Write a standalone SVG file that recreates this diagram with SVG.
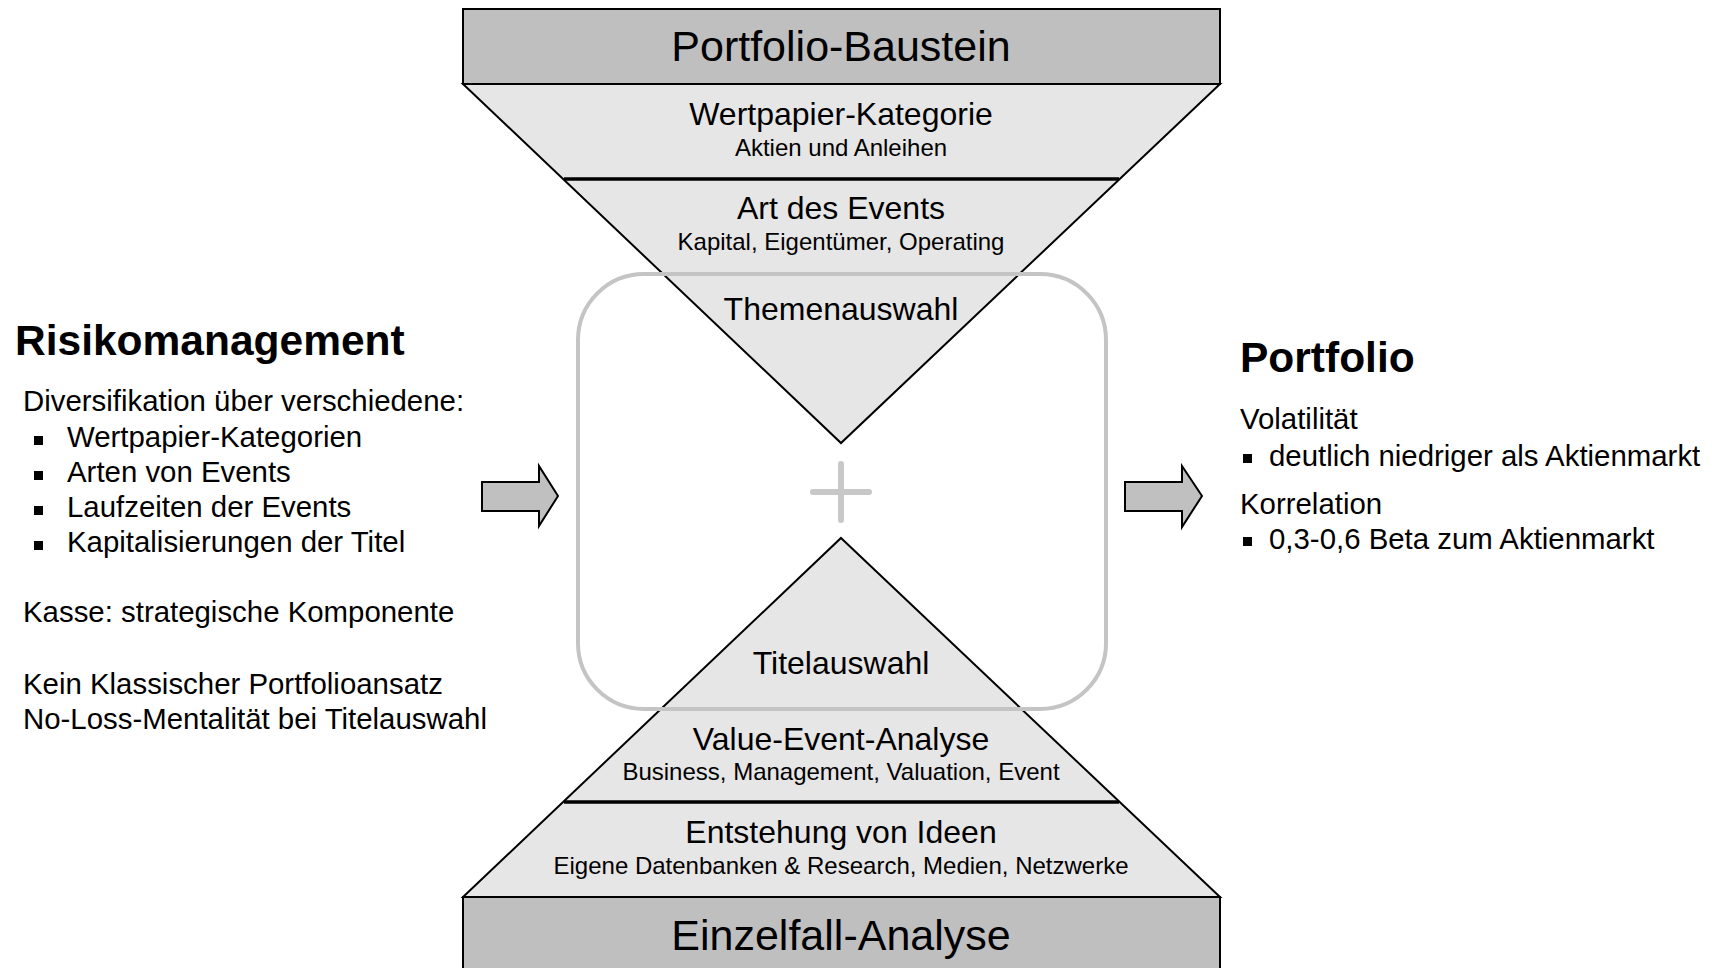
<svg xmlns="http://www.w3.org/2000/svg" width="1712" height="968" viewBox="0 0 1712 968">
<style>
text { font-family: "Liberation Sans", Arial, Helvetica, sans-serif; fill: #000; }
.c { text-anchor: middle; }
.big { font-size: 43px; }
.h { font-size: 32px; }
.s { font-size: 24px; }
.b { font-size: 42.5px; font-weight: bold; }
.t { font-size: 29.4px; }
.box { fill: #bfbfbf; stroke: #000; stroke-width: 2; }
.tri { fill: #e6e6e6; stroke: #000; stroke-width: 2; stroke-linejoin: miter; }
.div { stroke: #000; stroke-width: 3.5; }
.arrow { fill: #c0c0c0; stroke: #000; stroke-width: 2; stroke-linejoin: miter; }
.frame { fill: none; stroke: #c4c4c4; stroke-width: 4; }
.plus { stroke: #c8c8c8; stroke-width: 6; stroke-linecap: round; }
</style>
<rect width="1712" height="968" fill="#fff"/>

<g id="top-funnel">
  <polygon class="tri" points="463,84 1220,84 841,443"/>
  <line class="div" x1="564" y1="179" x2="1119" y2="179"/>
  <text class="c h" x="841" y="125">Wertpapier-Kategorie</text>
  <text class="c s" x="841" y="156">Aktien und Anleihen</text>
  <text class="c h" x="841" y="219">Art des Events</text>
  <text class="c s" x="841" y="250">Kapital, Eigentümer, Operating</text>
  <text class="c h" x="841" y="320">Themenauswahl</text>
</g>

<g id="portfolio-baustein">
  <rect class="box" x="463" y="9" width="757" height="75"/>
  <text class="c big" x="841" y="61">Portfolio-Baustein</text>
</g>

<g id="bottom-pyramid">
  <polygon class="tri" points="841,538 1220,897 463,897"/>
  <line class="div" x1="564" y1="802" x2="1119" y2="802"/>
  <text class="c h" x="841" y="674">Titelauswahl</text>
  <text class="c h" x="841" y="750">Value-Event-Analyse</text>
  <text class="c s" x="841" y="780">Business, Management, Valuation, Event</text>
  <text class="c h" x="841" y="843">Entstehung von Ideen</text>
  <text class="c s" x="841" y="874">Eigene Datenbanken &amp; Research, Medien, Netzwerke</text>
</g>

<g id="einzelfall-analyse">
  <rect class="box" x="463" y="897" width="757" height="90"/>
  <text class="c big" x="841" y="950">Einzelfall-Analyse</text>
</g>

<g id="combination">
  <rect class="frame" x="578" y="274" width="528" height="435" rx="66" ry="66"/>
  <line class="plus" x1="813" y1="492" x2="869" y2="492"/>
  <line class="plus" x1="841" y1="464" x2="841" y2="520"/>
</g>

<g id="connectors">
  <polygon class="arrow" points="482,482 539,482 539,466 558,496 539,526 539,511 482,511"/>
  <polygon class="arrow" points="1125,482 1182,482 1182,466 1202,496 1182,527 1182,511 1125,511"/>
</g>

<g id="risikomanagement">
  <text class="b" x="15" y="355">Risikomanagement</text>
  <text class="t" x="23" y="411">Diversifikation über verschiedene:</text>
  <rect x="34" y="436" width="9" height="9"/>
  <text class="t" x="67" y="447">Wertpapier-Kategorien</text>
  <rect x="34" y="471" width="9" height="9"/>
  <text class="t" x="67" y="482">Arten von Events</text>
  <rect x="34" y="506" width="9" height="9"/>
  <text class="t" x="67" y="517">Laufzeiten der Events</text>
  <rect x="34" y="541" width="9" height="9"/>
  <text class="t" x="67" y="552">Kapitalisierungen der Titel</text>
  <text class="t" x="23" y="622">Kasse: strategische Komponente</text>
  <text class="t" x="23" y="694">Kein Klassischer Portfolioansatz</text>
  <text class="t" x="23" y="729">No-Loss-Mentalität bei Titelauswahl</text>
</g>

<g id="portfolio">
  <text class="b" x="1240" y="372">Portfolio</text>
  <text class="t" x="1240" y="429">Volatilität</text>
  <rect x="1243" y="454" width="9" height="9"/>
  <text class="t" x="1269" y="466">deutlich niedriger als Aktienmarkt</text>
  <text class="t" x="1240" y="514">Korrelation</text>
  <rect x="1243" y="537" width="9" height="9"/>
  <text class="t" x="1269" y="549">0,3-0,6 Beta zum Aktienmarkt</text>
</g>
</svg>
